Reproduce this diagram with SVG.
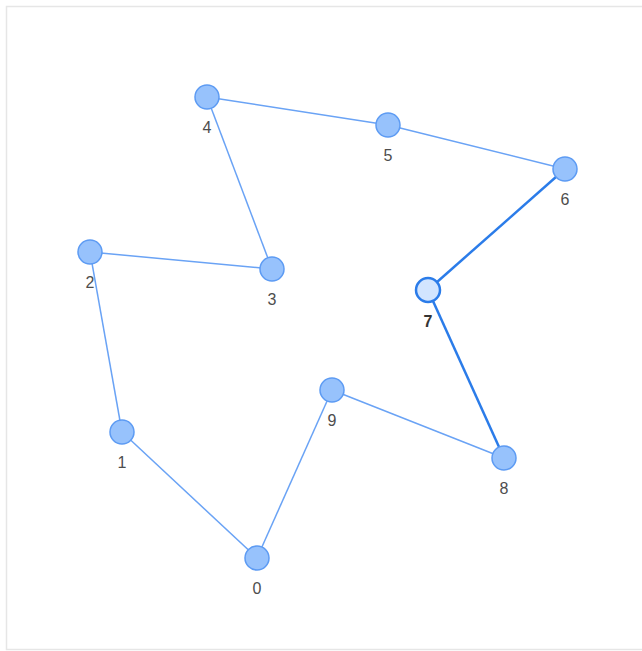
<svg xmlns="http://www.w3.org/2000/svg" width="642" height="651" viewBox="0 0 642 651">
<style>
.edge{stroke:#6aa3f5;stroke-width:1.5;fill:none}
.edge.sel{stroke:#2b7ce9;stroke-width:2.5}
.node circle{fill:#97c2fc;stroke:#5d9bf3;stroke-width:1.5}
.node.sel circle{fill:#d2e5ff;stroke:#2b7ce9;stroke-width:2.5}
.node text{font-family:"Liberation Sans",Arial,sans-serif;font-size:16px;fill:#4d4d4d;text-anchor:middle}
.node.sel text{font-weight:bold;fill:#343434}
</style>
<rect x="0" y="0" width="642" height="651" fill="#ffffff"/>
<rect x="6.5" y="6.5" width="640" height="643" fill="none" stroke="#e6e6e6" stroke-width="1.5"/>
<g id="edges">
<line class="edge" x1="257" y1="558" x2="122" y2="432"/>
<line class="edge" x1="122" y1="432" x2="90" y2="252"/>
<line class="edge" x1="90" y1="252" x2="272" y2="269"/>
<line class="edge" x1="272" y1="269" x2="207" y2="97"/>
<line class="edge" x1="207" y1="97" x2="388" y2="125"/>
<line class="edge" x1="388" y1="125" x2="565" y2="169"/>
<line class="edge sel" x1="565" y1="169" x2="428" y2="290"/>
<line class="edge sel" x1="428" y1="290" x2="504" y2="458"/>
<line class="edge" x1="504" y1="458" x2="332" y2="390"/>
<line class="edge" x1="332" y1="390" x2="257" y2="558"/>
</g>
<g id="node0" class="node"><circle cx="257" cy="558" r="12"/><text x="257" y="594">0</text></g>
<g id="node1" class="node"><circle cx="122" cy="432" r="12"/><text x="122" y="468">1</text></g>
<g id="node2" class="node"><circle cx="90" cy="252" r="12"/><text x="90" y="288">2</text></g>
<g id="node3" class="node"><circle cx="272" cy="269" r="12"/><text x="272" y="305">3</text></g>
<g id="node4" class="node"><circle cx="207" cy="97" r="12"/><text x="207" y="133">4</text></g>
<g id="node5" class="node"><circle cx="388" cy="125" r="12"/><text x="388" y="161">5</text></g>
<g id="node6" class="node"><circle cx="565" cy="169" r="12"/><text x="565" y="205">6</text></g>
<g id="node7" class="node sel"><circle cx="428" cy="290" r="12"/><text x="428" y="327">7</text></g>
<g id="node8" class="node"><circle cx="504" cy="458" r="12"/><text x="504" y="494">8</text></g>
<g id="node9" class="node"><circle cx="332" cy="390" r="12"/><text x="332" y="426">9</text></g>
</svg>
